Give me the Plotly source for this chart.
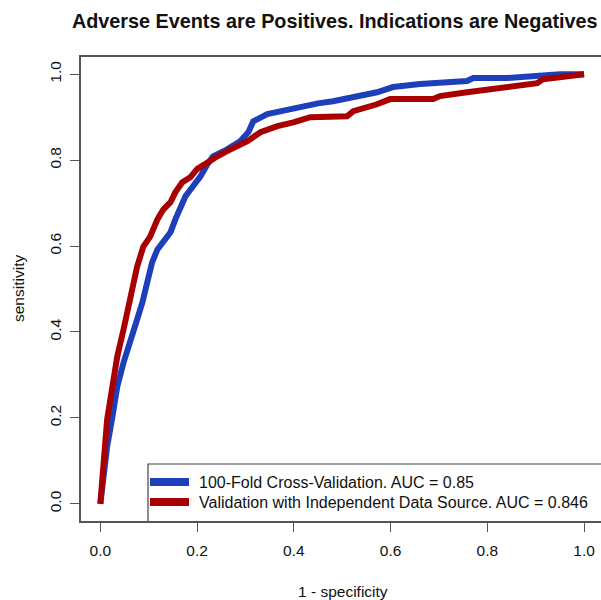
import plotly.graph_objects as go

# ---- data ----
cv_fpr = [0.0, 0.006, 0.014, 0.025, 0.035, 0.048, 0.062, 0.076, 0.087, 0.097, 0.107, 0.118,
          0.130, 0.145, 0.155, 0.165, 0.176, 0.190, 0.207, 0.221, 0.233, 0.262, 0.289, 0.306,
          0.316, 0.345, 0.386, 0.420, 0.450, 0.481, 0.517, 0.572, 0.605, 0.661, 0.758, 0.771,
          0.841, 0.895, 0.950, 1.0]
cv_tpr = [0.0, 0.072, 0.133, 0.203, 0.273, 0.329, 0.375, 0.429, 0.469, 0.522, 0.562, 0.592,
          0.608, 0.632, 0.662, 0.692, 0.716, 0.737, 0.762, 0.790, 0.809, 0.825, 0.844, 0.865,
          0.890, 0.907, 0.918, 0.927, 0.932, 0.937, 0.946, 0.958, 0.970, 0.977, 0.984, 0.991,
          0.991, 0.995, 1.0, 1.0]

ind_fpr = [0.0, 0.004, 0.006, 0.014, 0.025, 0.035, 0.048, 0.062, 0.072, 0.076, 0.089, 0.103,
           0.118, 0.130, 0.145, 0.155, 0.169, 0.186, 0.200, 0.221, 0.242, 0.262, 0.283, 0.304,
           0.331, 0.366, 0.399, 0.434, 0.510, 0.523, 0.572, 0.599, 0.688, 0.702, 0.758, 0.800,
           0.862, 0.903, 0.915, 0.965, 1.0]
ind_tpr = [0.0, 0.056, 0.119, 0.196, 0.273, 0.343, 0.406, 0.476, 0.522, 0.552, 0.599, 0.622,
           0.662, 0.685, 0.702, 0.725, 0.748, 0.760, 0.779, 0.795, 0.809, 0.821, 0.832, 0.844,
           0.865, 0.879, 0.888, 0.900, 0.902, 0.914, 0.930, 0.942, 0.942, 0.949, 0.958, 0.965,
           0.972, 0.979, 0.988, 0.995, 1.0]

series_names = ["100-Fold Cross-Validation. AUC = 0.85",
                "Validation with Independent Data Source. AUC = 0.846"]
series_colors = ["#1e3fba", "#a80000"]
tick_vals = [0.0, 0.2, 0.4, 0.6, 0.8, 1.0]
tick_text = ["0.0", "0.2", "0.4", "0.6", "0.8", "1.0"]

FONT = "Liberation Sans, Arial, Helvetica, sans-serif"
W, H = 601, 600
# plot region in page pixels: x 81 -> 601, y 57 -> 521
L, R, T, B = 81, 0, 57, 600 - 521
PW, PH = W - L - R, H - T - B


def px(p):  # page pixel x -> paper
    return (p - L) / PW


def py(p):  # page pixel y -> paper
    return (H - B - p) / PH


fig = go.Figure()
fig.add_trace(go.Scatter(x=cv_fpr, y=cv_tpr, mode="lines",
                         line=dict(color=series_colors[0], width=6),
                         showlegend=False, hoverinfo="skip"))
fig.add_trace(go.Scatter(x=ind_fpr, y=ind_tpr, mode="lines",
                         line=dict(color=series_colors[1], width=6),
                         showlegend=False, hoverinfo="skip"))

axis_common = dict(showgrid=False, zeroline=False, showline=True, linecolor="#555",
                   linewidth=1.5, ticks="outside", ticklen=9, tickwidth=1.2,
                   tickcolor="#555", tickvals=tick_vals, ticktext=tick_text,
                   tickfont=dict(family=FONT, size=15.5, color="#111"))

fig.update_layout(
    width=W, height=H,
    margin=dict(l=L, r=R, t=T, b=B),
    paper_bgcolor="white", plot_bgcolor="white",
    xaxis=dict(range=[-0.04, 1.035], mirror=True, ticklabelstandoff=6, **axis_common),
    yaxis=dict(range=[-0.04, 1.04], mirror=False, tickangle=-90, ticklabelstandoff=3,
               **axis_common),
    font=dict(family=FONT),
)

# legend (manual, bottom-right like base R; its right side is off the picture)
x0, x1, y1 = px(148), px(640), py(464)
fig.add_shape(type="path", xref="paper", yref="paper",
              path=f"M {x0},0 L {x0},{y1} L {x1},{y1}",
              line=dict(color="#444", width=1.2), layer="above")
for i, (name, col) in enumerate(zip(series_names, series_colors)):
    yy = py(482 + 20 * i)
    fig.add_shape(type="line", xref="paper", yref="paper", x0=px(150), x1=px(189),
                  y0=yy, y1=yy, line=dict(color=col, width=8), layer="above")
    fig.add_annotation(text=name, xref="paper", yref="paper", x=px(197), y=yy,
                       xanchor="left", yanchor="middle", showarrow=False,
                       font=dict(family=FONT, size=16, color="#111"))

# title and axis titles
fig.add_annotation(text="<b>Adverse Events are Positives. Indications are Negatives</b>",
                   xref="paper", yref="paper", x=px(335), y=py(21), xanchor="center",
                   yanchor="middle", showarrow=False,
                   font=dict(family=FONT, size=19.8, color="#111"))
fig.add_annotation(text="1 - specificity", xref="paper", yref="paper", x=px(343), y=py(591),
                   xanchor="center", yanchor="middle", showarrow=False,
                   font=dict(family=FONT, size=15.5, color="#111"))
fig.add_annotation(text="sensitivity", xref="paper", yref="paper", x=px(18), y=py(289),
                   xanchor="center", yanchor="middle", showarrow=False, textangle=-90,
                   font=dict(family=FONT, size=15.5, color="#111"))

# remove the page's default body margin so the 601x600 figure fills the window
fig.write_html("out.html",
               config={"displayModeBar": False},
               post_script="document.body.style.margin='0';"
                           "document.documentElement.style.overflow='hidden';")
